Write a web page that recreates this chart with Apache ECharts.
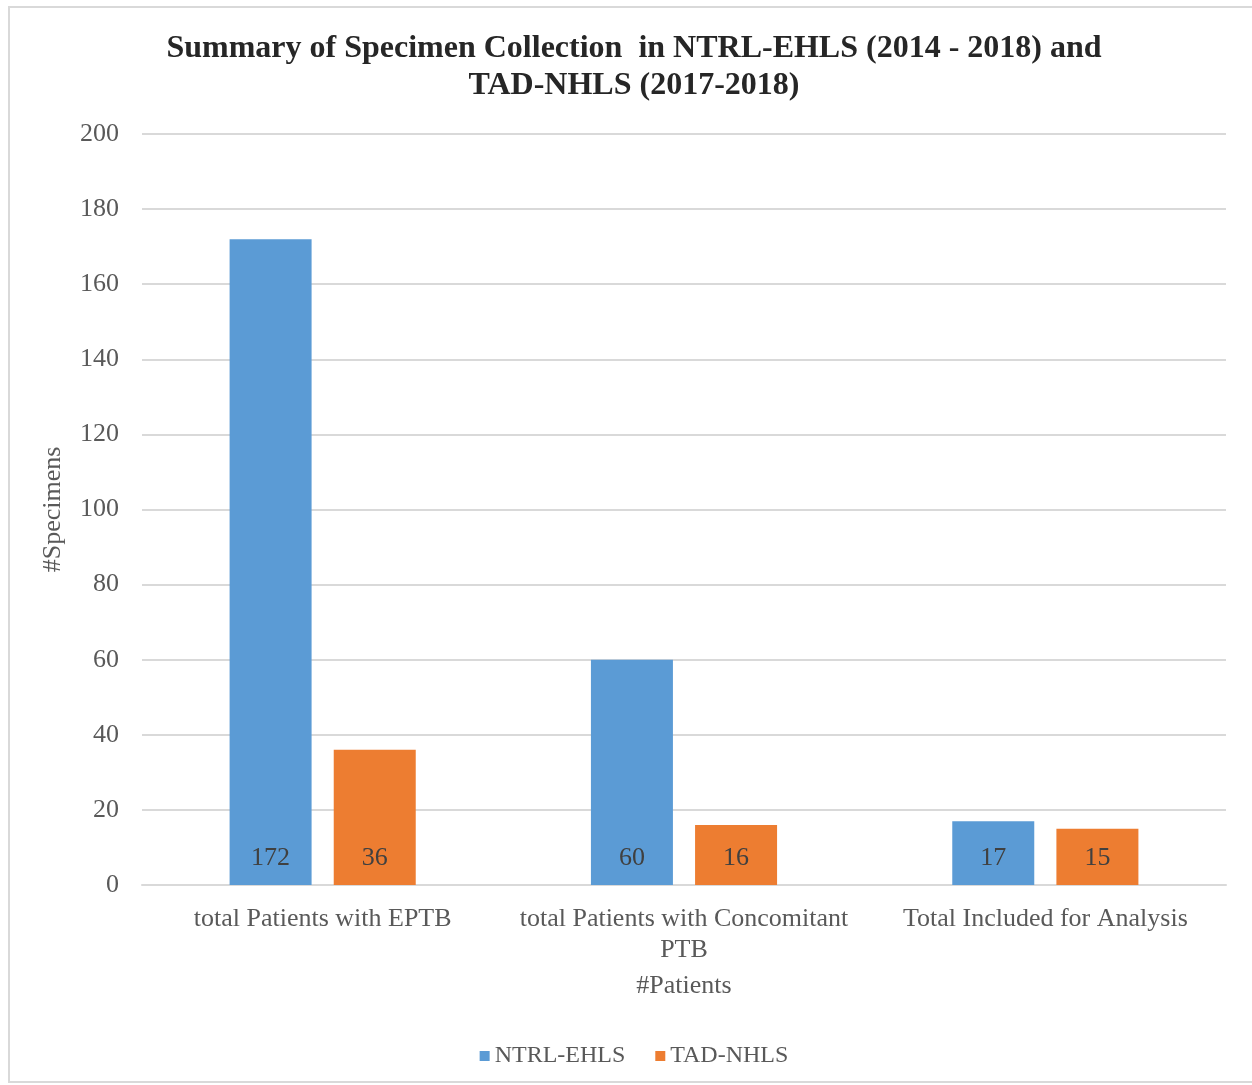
<!DOCTYPE html>
<html>
<head>
<meta charset="utf-8">
<script src="https://cdn.jsdelivr.net/npm/echarts@6/dist/echarts.min.js"></script>
<style>
    html, body { margin: 0; padding: 0; background: #fff; }
    #main { position: absolute; left: 8px; top: 6px; width: 1250px; height: 1077px; border: 2px solid #d9d9d9; box-sizing: border-box; border-right: none; }
</style>
</head>
<body>
<div id="main"></div>
<script>
// categories
var categories = ['total Patients with EPTB', 'total Patients with Concomitant\nPTB', 'Total Included for Analysis'];
// series values
var ntrl = [172, 60, 17];
var tad = [36, 16, 15];
var seriesNames = ['NTRL-EHLS', 'TAD-NHLS'];
var colors = ['#5B9BD5', '#ED7D31'];

var font = '"Liberation Serif", "Times New Roman", serif';
var chart = echarts.init(document.getElementById('main'));

var labelStyle = {
    show: true,
    position: 'insideBottom',
    distance: 14,
    color: '#404040',
    fontFamily: font,
    fontSize: 26
};

var option = {
    animation: false,
    backgroundColor: '#fff',
    title: {
        text: 'Summary of Specimen Collection  in NTRL-EHLS (2014 - 2018) and\nTAD-NHLS (2017-2018)',
        left: 'center',
        top: 17,
        textStyle: {
            fontFamily: font,
            fontWeight: 'bold',
            fontSize: 32,
            color: '#262626',
            lineHeight: 37
        }
    },
    legend: {
        bottom: 8,
        left: 'center',
        itemWidth: 10,
        itemHeight: 10,
        itemGap: 30,
        icon: 'rect',
        textStyle: { fontFamily: font, fontSize: 24, color: '#595959' },
        data: seriesNames
    },
    grid: {
        left: 132,
        right: 32,
        top: 126,
        bottom: 196
    },
    xAxis: {
        type: 'category',
        data: categories,
        name: '#Patients',
        nameLocation: 'middle',
        nameGap: 88,
        nameTextStyle: { fontFamily: font, fontSize: 26, color: '#595959' },
        axisLine: { lineStyle: { color: '#d9d9d9', width: 2 } },
        axisTick: { show: false },
        axisLabel: {
            fontFamily: font,
            fontSize: 26,
            color: '#595959',
            margin: 19,
            lineHeight: 31,
            interval: 0
        }
    },
    yAxis: {
        type: 'value',
        min: 0,
        max: 200,
        interval: 20,
        name: '#Specimens',
        nameLocation: 'middle',
        nameGap: 76,
        nameTextStyle: { fontFamily: font, fontSize: 26, color: '#595959' },
        axisLine: { show: false },
        axisTick: { show: false },
        splitLine: { lineStyle: { color: '#d9d9d9', width: 2 } },
        axisLabel: { fontFamily: font, fontSize: 26, color: '#595959', margin: 23 }
    },
    series: [
        {
            name: seriesNames[0],
            type: 'bar',
            data: ntrl,
            barWidth: 82,
            barGap: '27%',
            itemStyle: { color: colors[0] },
            label: labelStyle
        },
        {
            name: seriesNames[1],
            type: 'bar',
            data: tad,
            barWidth: 82,
            barGap: '27%',
            itemStyle: { color: colors[1] },
            label: labelStyle
        }
    ]
};
chart.setOption(option);
</script>
</body>
</html>
